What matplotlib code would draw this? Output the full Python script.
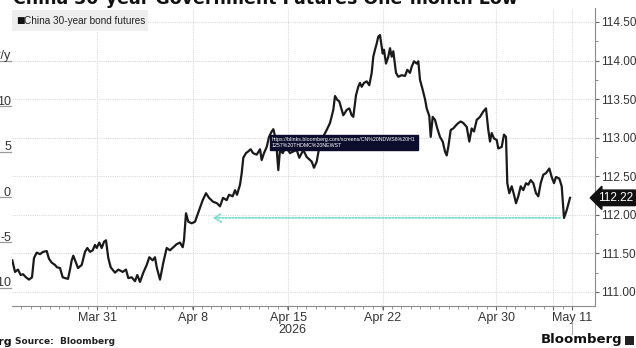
import matplotlib
matplotlib.use("Agg")
import matplotlib.pyplot as plt
from matplotlib.patches import Rectangle
from matplotlib.ticker import FixedLocator, MultipleLocator

# ---------------- data ----------------
title = "China 30-year Government Futures One-month Low"
series_name = "China 30-year bond futures"

# intraday sample position (chart bar index) and price
t = [12.3, 15, 18, 20.7, 23, 26, 29, 32, 34, 36.7, 40, 43, 46.7, 49, 51.7, 55, 57, 60,
     62.7, 65, 68, 70, 71.7, 73.3, 76, 78, 81.7, 85, 87.3, 90, 92.7, 95, 96.7, 99.3,
     101.7, 104, 106, 108.3, 110.7, 115, 118.3, 122.7, 126, 128.3, 131.7, 135, 137.3,
     140, 143.3, 146.7, 149.3, 152.7, 155, 156.7, 160, 163.3, 166.7, 170, 173.3, 176.7,
     180, 182.7, 184, 186, 188.3, 191.7, 195, 198.3, 200, 202.7, 206, 209, 213, 217,
     220, 223, 226.7, 229, 232.7, 235, 237, 240, 241.7, 243.3, 246, 248, 250.7, 253,
     256.7, 260, 261.7, 264, 266.7, 269, 271.7, 273.3, 276, 278.3, 280, 282.7, 286,
     290, 293, 296.7, 299.3, 303.3, 306.7, 311.7, 314, 316.7, 319.3, 322.7, 326.7,
     330, 333.3, 335, 337.3, 339.3, 341.7, 343.3, 346.7, 349.3, 351.7, 353.3, 356,
     358.3, 360, 361.7, 364, 366.7, 369.3, 371.7, 373.3, 375, 376.7, 378.3, 380, 381,
     382.7, 384, 386, 388.3, 390, 391.7, 393.3, 396, 398.3, 401.7, 405, 407.3, 410,
     411.7, 414, 416.7, 418.3, 420, 422.7, 425, 426.7, 429.3, 430.7, 432.7, 435,
     437.3, 440, 442.7, 445, 446.7, 448.3, 450.7, 453.3, 456, 458.3, 460.7, 463.3,
     466.7, 469.3, 471.7, 474, 476.7, 480, 483.3, 486, 488.3, 490, 491.7, 494, 496.7,
     498.3, 501.7, 504, 506, 507.3, 509.3, 511.7, 514, 516, 518.3, 520.7, 523.3, 526,
     528.3, 530.7, 533.3, 536, 538.3, 540.7, 543.3, 546, 549.3, 551.7, 554, 556,
     559.3, 561.7, 564, 566.7, 570]
price = [111.41, 111.26, 111.29, 111.22, 111.23, 111.19, 111.16, 111.19, 111.44, 111.51,
         111.49, 111.52, 111.53, 111.43, 111.38, 111.35, 111.32, 111.31, 111.19, 111.18,
         111.17, 111.29, 111.41, 111.47, 111.38, 111.31, 111.35, 111.52, 111.57, 111.52,
         111.54, 111.61, 111.57, 111.64, 111.57, 111.65, 111.67, 111.44, 111.32, 111.25,
         111.29, 111.26, 111.29, 111.18, 111.19, 111.14, 111.22, 111.13, 111.25, 111.35,
         111.45, 111.41, 111.45, 111.32, 111.16, 111.38, 111.57, 111.54, 111.58, 111.62,
         111.64, 111.58, 111.67, 112.02, 111.91, 111.89, 111.91, 112.03, 112.09, 112.19,
         112.28, 112.22, 112.17, 112.15, 112.11, 112.22, 112.19, 112.26, 112.24, 112.32,
         112.26, 112.39, 112.54, 112.74, 112.80, 112.82, 112.85, 112.80, 112.78, 112.85,
         112.71, 112.80, 112.88, 113.01, 113.08, 113.11, 112.97, 112.58, 112.84, 112.80,
         112.88, 112.80, 112.82, 112.84, 112.74, 112.84, 112.75, 112.69, 112.61, 112.69,
         112.88, 113.00, 113.10, 113.19, 113.36, 113.54, 113.49, 113.47, 113.36, 113.29,
         113.36, 113.38, 113.29, 113.27, 113.55, 113.66, 113.71, 113.66, 113.71, 113.73,
         113.68, 113.84, 114.05, 114.14, 114.22, 114.31, 114.33, 114.24, 114.09, 114.14,
         113.96, 114.05, 114.16, 114.05, 114.12, 113.84, 113.79, 113.81, 113.80, 113.88,
         113.84, 113.92, 113.99, 113.96, 113.99, 113.75, 113.62, 113.50, 113.38, 113.28,
         113.01, 113.27, 113.23, 113.12, 113.01, 112.95, 112.82, 112.77, 112.88, 113.10,
         113.12, 113.16, 113.19, 113.21, 113.19, 113.14, 112.95, 113.12, 113.08, 113.23,
         113.27, 113.34, 113.38, 113.10, 112.95, 113.06, 112.99, 112.97, 112.86, 112.88,
         113.04, 113.01, 112.41, 112.28, 112.37, 112.26, 112.15, 112.24, 112.37, 112.32,
         112.41, 112.39, 112.45, 112.41, 112.28, 112.24, 112.41, 112.52, 112.54, 112.60,
         112.49, 112.41, 112.49, 112.47, 112.37, 111.96, 112.06, 112.22]

last_label = "112.22"
x_tick_pos = [97, 193, 288, 383, 496, 553, 572]
x_tick_labels = ["Mar 31", "Apr 8", "Apr 15\n2026", "Apr 22", "Apr 30", "", "May 11"]
right_ticks = [111.0, 111.5, 112.0, 112.5, 113.0, 113.5, 114.0, 114.5]
left_ticks = [-10, -5, 0, 5, 10, 15]
left_labels = ["-10", "-5", "0", "5", "10", "%y/y"]
low_level = 111.96
arrow_from, arrow_to = 563, 210
tooltip = "https://blinks.bloomberg.com/screens/CN%20NDWS6%20H1\n1257%20THDMC%20NEWST"

# ---------------- figure ----------------
W, H = 636, 348
fig = plt.figure(figsize=(W / 100, H / 100), dpi=100)
fig.patch.set_facecolor("white")

def fx(x):
    return x / W

def fy(y):
    return 1 - y / H

ax_l, ax_r, ax_t, ax_b = 12, 595, 8, 306
ax = fig.add_axes([fx(ax_l), fy(ax_b), fx(ax_r - ax_l), (ax_b - ax_t) / H])
ax.set_xlim(12, 595)
ax.set_ylim(110.818, 114.681)

grid_col = "#d9d9d9"
ax.set_axisbelow(True)
for s in ["top", "left"]:
    ax.spines[s].set_visible(False)
for s in ["right", "bottom"]:
    ax.spines[s].set_color("#8c8c8c")
    ax.spines[s].set_linewidth(0.8)

ax.plot(t, price, color="#1a1a1a", lw=1.6, solid_joinstyle="round")

# right axis
ax.yaxis.tick_right()
ax.yaxis.set_major_locator(FixedLocator(right_ticks))
ax.set_yticklabels([f"{v:.2f}" for v in right_ticks])
ax.yaxis.set_minor_locator(MultipleLocator(0.25))
ax.tick_params(axis="y", which="major", direction="out", length=3, width=0.8,
               color="#666666", labelsize=8.5, labelcolor="#333333", pad=1)
ax.tick_params(axis="y", which="minor", direction="out", length=2.5, width=0.7,
               color="#888888")
for lbl in ax.get_yticklabels():
    lbl.set_fontfamily("Liberation Sans")
ax.grid(axis="y", which="major", color=grid_col, lw=0.8, ls=(0, (1, 1)))

# x axis
ax.xaxis.set_major_locator(FixedLocator(x_tick_pos))
ax.set_xticklabels(x_tick_labels)
minor_x = [97 + 9.5 * k for k in range(-9, 51) if 12 <= 97 + 9.5 * k <= 595]
ax.xaxis.set_minor_locator(FixedLocator(minor_x))
ax.tick_params(axis="x", which="major", direction="out", length=3, width=0.8,
               color="#666666", labelsize=9, labelcolor="#333333", pad=1)
ax.tick_params(axis="x", which="minor", direction="out", length=2, width=0.6,
               color="#888888")
for lbl in ax.get_xticklabels():
    lbl.set_fontfamily("Liberation Sans")
    lbl.set_multialignment("right")
    lbl.set_linespacing(1.1)
ax.grid(axis="x", which="major", color=grid_col, lw=0.8, ls=(0, (1, 1)))

# left (%y/y) scale: labels sit above short tick lines
for v, lab in zip(left_ticks, left_labels):
    yy = 197 - v * 9.08
    fig.add_artist(plt.Line2D([fx(0), fx(11)], [fy(yy), fy(yy)], color="#9a9a9a", lw=0.9))
    fig.text(fx(11), fy(yy + 1.5), lab, ha="right", va="bottom", fontsize=9,
             color="#333333", family="Liberation Sans")

# low marker arrow (cyan dotted)
ax.annotate("", xy=(arrow_to, low_level), xytext=(arrow_from, low_level),
            arrowprops=dict(arrowstyle="->,head_length=0.5,head_width=0.3",
                            color="#6fdcca", lw=1.2, ls=(0, (1, 1))))

# last price tag
ax.text(1.006, price[-1], last_label, transform=ax.get_yaxis_transform(),
        ha="left", va="center", fontsize=8.5, color="white", family="Liberation Sans",
        bbox=dict(boxstyle="larrow,pad=0.15", fc="#111111", ec="#111111"),
        clip_on=False)

# tooltip
fig.text(fx(272), fy(142.5), tooltip, ha="left", va="center", fontsize=3.8,
         color="white", linespacing=1.1, family="Liberation Sans",
         bbox=dict(boxstyle="square,pad=0.4", fc="#0c0c2c", ec="#0c0c2c"))

# legend box
fig.add_artist(Rectangle((fx(12), fy(31)), fx(136), 21 / H, transform=fig.transFigure,
                         fc="#eeeeee", ec="none"))
fig.text(fx(16), fy(20.5), "\u25a0", ha="left", va="center",
         fontsize=6.5, color="#111111", family="DejaVu Sans")
fig.text(fx(24), fy(20.5), series_name, ha="left", va="center",
         fontsize=7.2, color="#222222", family="Liberation Sans")

# title (top cut off as in screenshot)
fig.text(fx(13), fy(4.5), title, ha="left", va="baseline", fontsize=12.5,
         fontweight="bold", color="#111111")

# footer
fig.text(fx(12), fy(342), "Bloomberg", ha="right", va="center", fontsize=8,
         fontweight="bold", color="#111111")
fig.text(fx(15), fy(342), "Source:  Bloomberg", ha="left", va="center", fontsize=6.5,
         fontweight="bold", color="#222222")
fig.text(fx(622), fy(340), "Bloomberg", ha="right", va="center", fontsize=9.5,
         fontweight="bold", color="#111111")
fig.add_artist(Rectangle((fx(625), fy(345)), fx(9), 9 / H, transform=fig.transFigure,
                         fc="#222222", ec="none"))
fig.add_artist(plt.Line2D([fx(572), fx(572)], [fy(322), fy(334)], color="#aaaaaa", lw=0.8))

fig.savefig("out.png", dpi=100, facecolor="white")
